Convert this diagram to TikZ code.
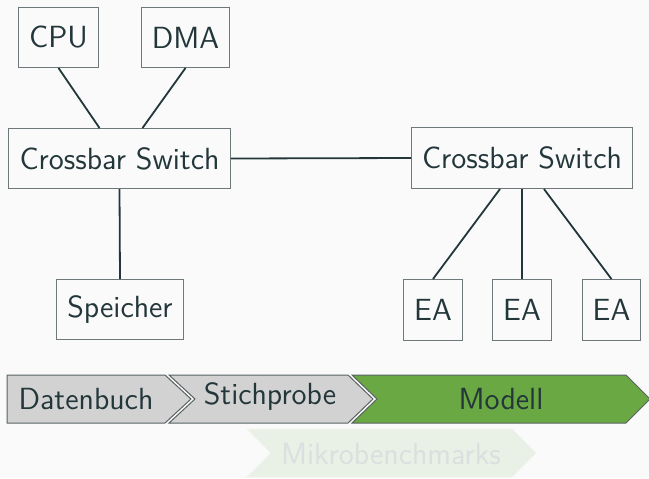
\documentclass[tikz,border=0pt]{standalone}
\usepackage{tikz}
\usetikzlibrary{calc}
\definecolor{bgc}{HTML}{FAFAFA}
\definecolor{txt}{HTML}{23373B}
\definecolor{boxedge}{HTML}{6E7779}
\definecolor{chevgray}{HTML}{D2D2D2}
\definecolor{chevedge}{HTML}{5A6264}
\definecolor{modellgreen}{HTML}{6AA843}
\definecolor{paleg}{HTML}{E9F0E6}
\definecolor{paleedge}{HTML}{F0F4EE}
\definecolor{paletxt}{HTML}{DADFDF}
\tikzset{
  every node/.style={font=\sffamily\fontsize{15.3}{18}\selectfont, text=txt},
  box/.style={draw=boxedge, line width=0.5pt, inner sep=0pt, anchor=north west},
  conn/.style={draw=txt, line width=0.9pt},
  chev/.style={fill=chevgray, draw=chevedge, line width=0.5pt, line join=miter},
}
\begin{document}
\begin{tikzpicture}[x=0.5pt,y=-0.5pt]
\useasboundingbox (0,0) rectangle (649,478);
\fill[bgc] (0,0) rectangle (649,478);
\begin{scope}
\clip (0,0) rectangle (649,478);
% boxes
\node[box, minimum width=40pt, minimum height=30pt] (cpu) at (18,7) {CPU};
\node[box, minimum width=44pt, minimum height=30pt] (dma) at (141,7) {DMA};
\node[box, minimum width=111pt, minimum height=30pt] (cb1) at (8,128) {Crossbar Switch};
\node[box, minimum width=63.5pt, minimum height=30pt] (mem) at (56,279) {Speicher};
\node[box, minimum width=110.5pt, minimum height=30.5pt] (cb2) at (411,127) {Crossbar Switch};
\node[box, minimum width=29.5pt, minimum height=30.5pt] (ea1) at (403,279) {EA};
\node[box, minimum width=29.5pt, minimum height=30.5pt] (ea2) at (492,279) {EA};
\node[box, minimum width=29pt, minimum height=30.5pt] (ea3) at (582,279) {EA};
% connectors
\draw[conn] (cpu.south) -- ($(cb1.north)+(-20,0)$);
\draw[conn] (dma.south) -- ($(cb1.north)+(23,0)$);
\draw[conn] (cb1.south) -- (mem.north);
\draw[conn] (cb1.east) -- (cb2.west);
\draw[conn] ($(cb2.south)+(-22,0)$) -- (ea1.north);
\draw[conn] (cb2.south) -- (ea2.north);
\draw[conn] ($(cb2.south)+(22,0)$) -- (ea3.north);
% process chevrons
\path[chev] (7,375) -- (165,375) -- (191,399) -- (165,423) -- (7,423) -- cycle;
\path[chev] (169,375) -- (348,375) -- (373,399) -- (348,423) -- (169,423) -- (195,399) -- cycle;
\path[chev, fill=modellgreen] (352,375) -- (626,375) -- (650,399) -- (626,423) -- (352,423) -- (377,399) -- cycle;
\path[fill=paleg, draw=paleedge, line width=0.5pt] (247,429) -- (512,429) -- (536,453) -- (512,477) -- (247,477) -- (271,453) -- cycle;
\node (datenbuch) at (86,399) {Datenbuch};
\node (stichprobe) at (270,397) {Stichprobe};
\node (modell) at (501,399) {Modell};
\node[text=paletxt] (mikro) at (391,454) {Mikrobenchmarks};
\end{scope}
\end{tikzpicture}
\end{document}
